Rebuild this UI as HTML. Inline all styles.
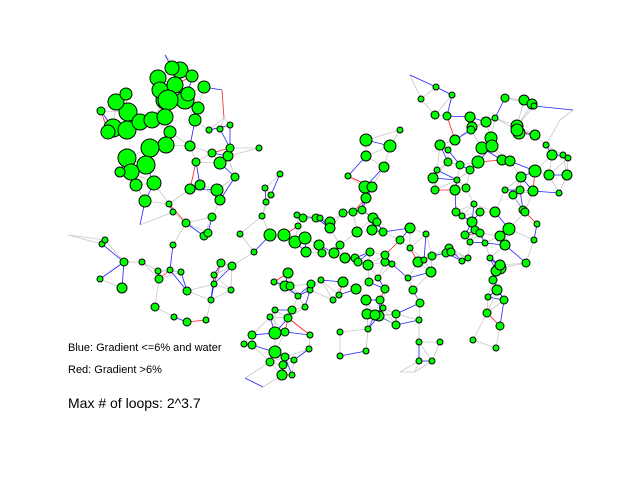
<!DOCTYPE html>
<html><head><meta charset="utf-8"><style>
body{margin:0;background:#fff;}
svg{display:block;font-family:"Liberation Sans",sans-serif;}
</style></head><body>
<svg id="chart" width="640" height="480" viewBox="0 0 640 480">
<g id="edges"></g>
<g id="nodes"></g>
<text x="68" y="351" font-size="11">Blue: Gradient &lt;=6% and water</text>
<text x="68" y="373" font-size="11">Red: Gradient &gt;6%</text>
<text x="68" y="408" font-size="14">Max # of loops: 2^3.7</text>
</svg>
<script>
const nodeX=[165,180,158,172,192,160,175,185,168,128,116,126,101,113,127,108,140,152,165,170,198,204,188,195,166,150,127,146,131,120,136,154,145,190,196,212,220,228,230,209,220,230,190,200,217,220,235,259,212,204,208,221,232,240,254,265,271,266,262,280,169,173,186,173,124,142,158,102,105,100,122,159,170,181,214,214,187,231,211,155,174,187,206,252,252,270,275,274,288,285,290,298,310,305,292,288,275,285,275,285,270,283,294,282,292,244,303,297,316,270,284,295,305,298,320,330,330,343,353,362,366,366,365,372,366,348,390,384,400,373,377,357,372,383,400,410,426,319,306,322,334,340,345,355,370,358,368,385,385,392,410,432,418,424,431,408,378,369,343,321,311,356,339,333,366,380,385,413,420,367,379,383,375,396,396,368,419,440,419,310,340,340,309,366,419,432,436,421,452,435,447,440,455,448,437,433,435,448,460,457,470,466,455,474,456,462,472,480,495,475,465,449,446,451,462,468,470,470,472,471,486,495,491,482,478,492,502,510,505,524,532,534,517,519,517,535,546,552,563,568,567,535,521,549,505,513,520,533,559,523,525,537,534,509,500,505,526,500,496,493,497,488,504,487,500,473,496,480,485,490,500,68,140,245,263,490,410,165,222,224,400,415,573,560];
const nodeY=[100,70,78,68,76,90,85,100,100,112,102,94,111,128,130,132,122,120,117,132,108,87,94,120,145,148,158,165,172,172,185,183,201,146,162,153,163,156,148,130,129,125,189,185,190,200,177,148,217,236,233,263,266,234,252,188,195,202,216,174,204,212,223,245,262,262,271,244,240,279,288,279,270,272,275,284,291,290,300,307,317,322,320,335,345,317,310,282,273,286,286,296,290,307,310,318,333,332,352,357,362,365,360,375,375,344,218,215,218,235,235,242,238,226,218,222,228,213,212,210,140,156,187,187,198,176,146,167,130,218,222,232,230,232,240,228,234,245,252,253,253,245,258,258,252,262,265,262,255,264,248,256,262,260,272,278,278,282,282,280,284,289,295,300,300,300,289,290,303,314,316,308,315,314,325,329,320,342,342,335,332,356,349,351,361,361,87,99,95,115,116,145,140,150,170,178,190,162,165,180,170,188,190,204,212,216,222,212,212,230,235,248,253,252,261,258,242,117,127,130,122,118,138,148,162,146,160,161,98,100,104,106,126,133,130,135,145,155,155,158,175,171,177,175,190,195,190,191,193,210,212,224,240,229,236,245,263,268,271,280,290,297,300,313,326,340,348,233,243,258,265,235,225,378,387,425,75,55,90,118,372,372,110,120];
const nodeR=[9,8,8,7,6,8,8,9,10,9,8,6,4,9,9,7,8,8,8,6,6,6,7,6,8,9,9,9,8,5,6,7,6,5,4,4,6,5,4,3,3,3,5,5,6,5,4,3,4,4,4,4,4,3,3,3,3,3,3,3,3,3,4,3,4,3,3,3,3,3,5,4,3,3,3,3,4,3,3,4,3,4,3,4,4,3,3,3,5,5,4,3,3,3,4,4,6,4,6,4,4,4,3,5,3,3,4,3,4,6,6,6,6,3,3,5,5,4,4,4,6,5,6,5,5,3,6,5,3,5,4,5,5,4,4,5,3,5,5,4,5,4,5,4,4,4,5,4,4,3,3,4,5,3,5,3,3,4,5,3,4,5,3,3,5,4,4,4,4,5,5,3,5,4,4,3,3,3,3,3,3,3,3,3,3,3,3,3,3,4,4,5,5,3,3,5,4,4,4,3,4,4,5,3,4,3,5,4,5,4,4,4,4,4,3,3,3,5,5,4,5,3,6,6,6,6,5,5,4,5,5,3,6,6,6,5,3,5,3,3,5,6,5,5,3,4,4,5,3,4,4,3,3,6,5,5,4,6,5,4,5,3,4,4,4,3,3,4,3,3,5,0,0,0,0,0,0,0,0,0,0,0,0,0];
const edgeColors=['#c8c8c8','#c8c8c8','#2020ff','#c8c8c8','#c8c8c8','#2020ff','#c8c8c8','#c8c8c8','#2020ff','#c8c8c8','#c8c8c8','#c8c8c8','#2020ff','#c8c8c8','#c8c8c8','#2020ff','#ff2020'];

const NS='http://www.w3.org/2000/svg';
const eg=document.getElementById('edges'), ng=document.getElementById('nodes');
const n=nodeX.length, seen={};
let ec=0;
for(let i=0;i<n;i++){
  const d=[];
  for(let j=0;j<n;j++){ if(j!==i){const dx=nodeX[i]-nodeX[j],dy=nodeY[i]-nodeY[j];d.push([dx*dx+dy*dy,j]);} }
  d.sort((a,b)=>a[0]-b[0]);
  const k=nodeR[i]===0?2:4;
  for(let m=0;m<k;m++){
    const j=d[m][1]; if(m>1 && d[m][0]>28*28) continue; if(d[m][0]>75*75) continue;
    const key=Math.min(i,j)+'-'+Math.max(i,j); if(seen[key]) continue; seen[key]=1;
    const l=document.createElementNS(NS,'line');
    
    
    l.setAttribute('x1',nodeX[i]);l.setAttribute('y1',nodeY[i]);
    l.setAttribute('x2',nodeX[j]);l.setAttribute('y2',nodeY[j]);
    l.setAttribute('stroke',edgeColors[ec%edgeColors.length]);l.setAttribute('stroke-width','0.8');
    eg.appendChild(l); ec++;
  }
}
for(let i=0;i<n;i++){
  if(nodeR[i]===0) continue;
  const c=document.createElementNS(NS,'circle');
  
  
  c.setAttribute('cx',nodeX[i]);c.setAttribute('cy',nodeY[i]);c.setAttribute('r',nodeR[i]);
  c.setAttribute('fill','#00ff00');c.setAttribute('stroke','#000');c.setAttribute('stroke-width','1');
  ng.appendChild(c);
}
</script>
</body></html>
